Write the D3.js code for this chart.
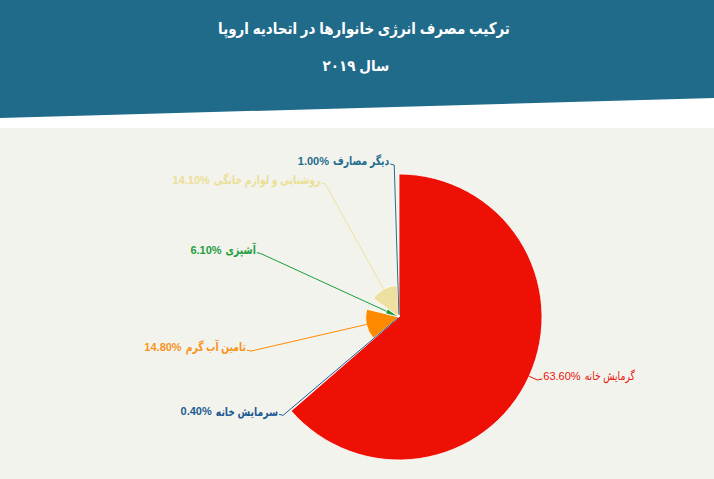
<!DOCTYPE html>
<html>
<head>
<meta charset="utf-8">
<script src="https://cdn.jsdelivr.net/npm/d3@7"></script>
<style>
  html, body { margin: 0; padding: 0; background: #ffffff; }
  svg { display: block; }
  text { font-family: "Liberation Sans", "DejaVu Sans", Arial, sans-serif; }
</style>
</head>
<body>
<div id="chart"></div>
<script>
// ---- data ----
const titleText = "ترکیب مصرف انرژی خانوارها در اتحادیه اروپا";
const subtitleText = "سال ۲۰۱۹";
const categories = ["گرمایش خانه", "سرمایش خانه", "تامین آب گرم", "آشپزی", "روشنایی و لوازم خانگی", "دیگر مصارف"];
const values = [63.6, 0.4, 14.8, 6.1, 14.1, 1.0];
const sliceColors = ["#ee1005", "#1f5f96", "#ff8a00", "#1a9e3c", "#ede0a0", "#246e8d"];
const labelColors = ["#e8140a", "#1d5a92", "#f7941d", "#1f9e3e", "#ebdf95", "#236d8c"];

// ---- layout ----
const W = 714, H = 479;
const cx = 399, cy = 317;
const rMax = 143;
const labelRadius = 152;
const squeeze = 0.77; // the installed Arabic-script font runs wider than the original

const svg = d3.select("#chart").append("svg").attr("width", W).attr("height", H);

// header band with slanted bottom
svg.append("path")
  .attr("d", d3.line()([[0, 0], [W, 0], [W, 98], [0, 118]]) + "Z")
  .attr("fill", "#206a8a");

// panel
svg.append("rect").attr("x", 0).attr("y", 128).attr("width", W).attr("height", H - 128)
  .attr("fill", "#f3f3ee");

function squeezeText(t, f) {
  const len = t.node().getComputedTextLength();
  t.attr("textLength", len * f).attr("lengthAdjust", "spacingAndGlyphs");
  return len * f;
}

const t1 = svg.append("text").attr("x", 364).attr("y", 34).attr("text-anchor", "middle")
  .attr("fill", "#ffffff").attr("font-size", 16).attr("font-weight", "bold")
  .text(titleText);
squeezeText(t1, 0.84);
const t2 = svg.append("text").attr("x", 356).attr("y", 71).attr("text-anchor", "middle")
  .attr("fill", "#ffffff").attr("font-size", 15).attr("font-weight", "bold")
  .text(subtitleText);
squeezeText(t2, 0.9);

const data = categories.map((c, i) => ({ name: c, value: values[i], color: sliceColors[i], lcolor: labelColors[i], i }));

const pie = d3.pie().value(d => d.value).sort(null).startAngle(0).endAngle(2 * Math.PI);
const arcs = pie(data);

const rScale = d3.scaleLinear().domain([0, d3.max(values)]).range([0, rMax]);

const g = svg.append("g").attr("transform", `translate(${cx},${cy})`);

g.selectAll("path.slice").data(arcs).enter().append("path")
  .attr("class", "slice")
  .attr("d", d => d3.arc().innerRadius(0).outerRadius(rScale(d.data.value))(d))
  .attr("fill", d => d.data.color)
  .attr("stroke", "#ffffff").attr("stroke-width", 0.8).attr("stroke-linejoin", "round");

const fmt = d3.format(".2f");

function polar(r, a) { return [r * Math.sin(a), -r * Math.cos(a)]; }

arcs.forEach(d => {
  const mid = (d.startAngle + d.endAngle) / 2;
  const rs = rScale(d.data.value);
  const edge = polar(rs, mid);
  const bend = polar(labelRadius, mid);
  const right = Math.sin(mid) > 0;
  const endX = bend[0] + (right ? 5 : -4);
  g.append("path")
    .attr("d", d3.line()([edge, bend, [endX, bend[1] - 1]]))
    .attr("fill", "none").attr("stroke", d.data.color).attr("stroke-width", 1);

  const weight = d.data.i === 0 ? "normal" : "bold";
  const y = bend[1] - 3;
  const num = g.append("text").attr("y", y).attr("dominant-baseline", "middle")
    .attr("fill", d.data.lcolor).attr("font-size", 11).attr("font-weight", weight)
    .text(fmt(d.data.value) + "%");
  const nm = g.append("text").attr("y", y).attr("dominant-baseline", "middle")
    .attr("fill", d.data.lcolor).attr("font-size", 12).attr("font-weight", weight)
    .text(d.data.name);
  const nw = num.node().getComputedTextLength();
  const mw = squeezeText(nm, squeeze);
  const gap = 4;
  if (right) {
    const x0 = endX + 1;
    num.attr("x", x0);
    nm.attr("x", x0 + nw + gap);
  } else {
    const x1 = endX - 1;
    nm.attr("x", x1 - mw);
    num.attr("x", x1 - mw - gap - nw);
  }
});
</script>
</body>
</html>
